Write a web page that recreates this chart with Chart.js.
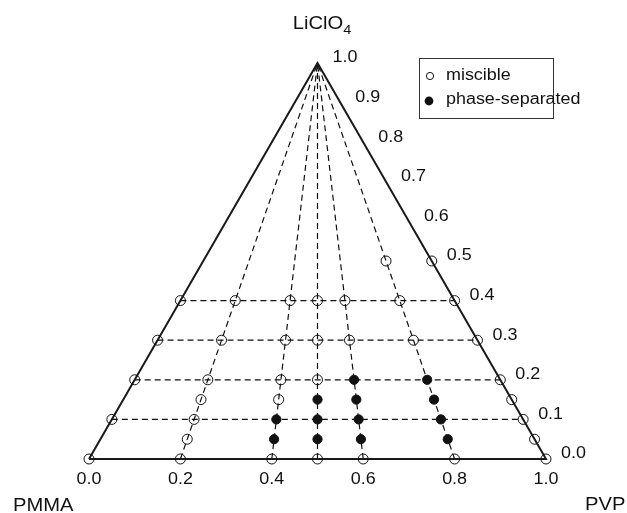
<!DOCTYPE html>
<html>
<head>
<meta charset="utf-8">
<script src="https://cdn.jsdelivr.net/npm/chart.js@4"></script>
<style>
  html, body { margin: 0; padding: 0; background: #fff; }
  canvas { display: block; }
</style>
</head>
<body>
<canvas id="ternary" width="627" height="513"></canvas>
<script>
// PVP fraction of the polymer blend (PVP / (PVP + PMMA)) for each column of samples
const pointRatios = [0, 0.2, 0.4, 0.5, 0.6, 0.8, 1];
// LiClO4 fractions of the samples on each column
const miscibleSalt = [
    [0, 0.1, 0.2, 0.3, 0.4],
    [0, 0.05, 0.1, 0.15, 0.2, 0.3, 0.4],
    [0, 0.15, 0.2, 0.3, 0.4],
    [0, 0.2, 0.3, 0.4],
    [0, 0.3, 0.4],
    [0, 0.3, 0.4, 0.5],
    [0, 0.05, 0.1, 0.15, 0.2, 0.3, 0.4, 0.5]
];
const separatedSalt = [
    [],
    [],
    [0.05, 0.1],
    [0.05, 0.1, 0.15],
    [0.05, 0.1, 0.15, 0.2],
    [0.05, 0.1, 0.15, 0.2],
    []
];
// dashed guides: rays from the PVP axis to the LiClO4 apex, and constant-salt lines
const rayRatios = [0.2, 0.4, 0.5, 0.6, 0.8];
const gridSalt = [0.1, 0.2, 0.3, 0.4];
// tick labels
const bottomTicks = [0, 0.2, 0.4, 0.6, 0.8, 1.0];
const rightTicks = [0, 0.1, 0.2, 0.3, 0.4, 0.5, 0.6, 0.7, 0.8, 0.9, 1.0];

// ternary -> cartesian (x along PVP axis, y = salt fraction)
function tern(r, L) {
    return { x: r * (1 - L) + L / 2, y: L };
}

function collect(salts) {
    let pts = [];
    pointRatios.forEach((r, i) => salts[i].forEach(L => pts.push(tern(r, L))));
    return pts;
}

let datasets = [];
datasets.push({
    label: 'miscible',
    data: collect(miscibleSalt),
    pointRadius: 5,
    pointBorderWidth: 1,
    pointBorderColor: '#111',
    pointBackgroundColor: 'rgba(0,0,0,0)',
    showLine: false,
    clip: false,
    order: 0
});
datasets.push({
    label: 'phase-separated',
    data: collect(separatedSalt),
    pointRadius: 4.6,
    pointBorderWidth: 1,
    pointBorderColor: '#111',
    pointBackgroundColor: '#111',
    showLine: false,
    clip: false,
    order: 0
});
datasets.push({
    label: 'frame',
    data: [tern(0, 0), tern(1, 0), tern(0, 1), tern(0, 0)],
    showLine: true,
    borderColor: '#1a1a1a',
    borderWidth: 2,
    pointRadius: 0,
    clip: false,
    order: 1
});
rayRatios.forEach(r => {
    datasets.push({
        label: 'ray ' + r,
        data: [tern(r, 0), tern(r, 1)],
        showLine: true,
        borderColor: '#111',
        borderWidth: 1.2,
        borderDash: [6, 4],
        pointRadius: 0,
        order: 2
    });
});
gridSalt.forEach(L => {
    datasets.push({
        label: 'salt ' + L,
        data: [tern(0, L), tern(1, L)],
        showLine: true,
        borderColor: '#111',
        borderWidth: 1.2,
        borderDash: [6, 4],
        pointRadius: 0,
        order: 2
    });
});

const FONT = 'Arial, "Liberation Sans", sans-serif';
const STRETCH = 1.12;

function stretchText(ctx, str, x, y, size, align) {
    ctx.save();
    ctx.font = size + 'px ' + FONT;
    let w = ctx.measureText(str).width * STRETCH;
    let left = x;
    if (align === 'center') left = x - w / 2;
    ctx.translate(left, y);
    ctx.scale(STRETCH, 1);
    ctx.textAlign = 'left';
    ctx.fillText(str, 0, 0);
    ctx.restore();
    return w;
}

const labelsPlugin = {
    id: 'ternaryLabels',
    afterDraw(chart) {
        const ctx = chart.ctx;
        const xs = chart.scales.x, ys = chart.scales.y;
        const px = p => xs.getPixelForValue(p.x);
        const py = p => ys.getPixelForValue(p.y);
        ctx.save();
        ctx.fillStyle = '#111';
        ctx.textBaseline = 'middle';

        // PVP fraction along the bottom
        bottomTicks.forEach(v => {
            const p = tern(v, 0);
            stretchText(ctx, v.toFixed(1), px(p), py(p) + 21, 16, 'center');
        });
        // LiClO4 fraction along the right edge
        rightTicks.forEach(v => {
            const p = tern(1, v);
            stretchText(ctx, v.toFixed(1), px(p) + 15, py(p) - 5, 16, 'left');
        });

        // corner names
        ctx.textBaseline = 'alphabetic';
        stretchText(ctx, 'PMMA', 13, 511, 18, 'left');
        stretchText(ctx, 'PVP', 585, 510, 18, 'left');

        // LiClO4 with subscript
        ctx.font = '18px ' + FONT;
        const wMain = ctx.measureText('LiClO').width * STRETCH;
        ctx.font = '13px ' + FONT;
        const wSub = ctx.measureText('4').width * STRETCH;
        const startX = 322 - (wMain + wSub) / 2;
        stretchText(ctx, 'LiClO', startX, 29, 18, 'left');
        stretchText(ctx, '4', startX + wMain, 34, 13, 'left');

        // legend box
        ctx.strokeStyle = '#333';
        ctx.lineWidth = 1;
        ctx.strokeRect(419.5, 58.5, 134, 60);
        ctx.beginPath();
        ctx.arc(430, 76, 3.6, 0, Math.PI * 2);
        ctx.strokeStyle = '#111';
        ctx.stroke();
        ctx.beginPath();
        ctx.arc(429, 101, 4.4, 0, Math.PI * 2);
        ctx.fill();
        ctx.textBaseline = 'middle';
        stretchText(ctx, 'miscible', 446, 76, 16, 'left');
        stretchText(ctx, 'phase-separated', 446, 100, 16, 'left');
        ctx.restore();
    }
};

let ternaryChart = new Chart(document.getElementById('ternary').getContext('2d'), {
    type: 'scatter',
    data: { datasets: datasets },
    options: {
        responsive: false,
        devicePixelRatio: 1,
        animation: false,
        layout: {
            padding: { left: 89, right: 81, top: 63, bottom: 54 }
        },
        plugins: {
            legend: { display: false },
            tooltip: { enabled: false }
        },
        scales: {
            x: { type: 'linear', min: 0, max: 1, display: false },
            y: { type: 'linear', min: 0, max: 1, display: false }
        }
    },
    plugins: [labelsPlugin]
});
</script>
</body>
</html>
